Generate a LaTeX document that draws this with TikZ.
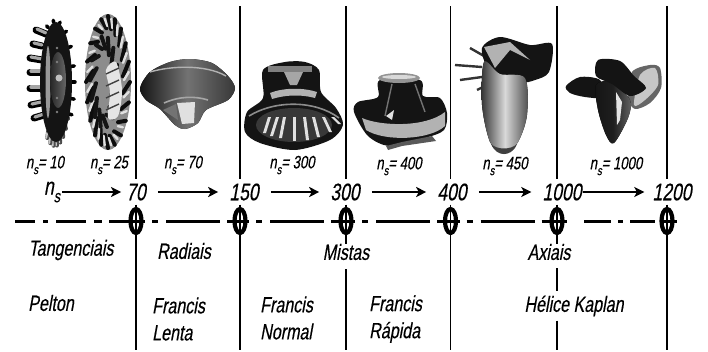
\documentclass[tikz,border=0pt]{standalone}
\usepackage{fontspec}
\newfontfamily\narrowit[FakeStretch=0.73,FakeSlant=0.18,FakeBold=0.35]{Liberation Sans}
\usetikzlibrary{arrows.meta,positioning,calc,shapes.geometric}
\newcommand{\nsub}{n\raisebox{-0.32em}{\scalebox{.72}{s}}}

\begin{document}
\begin{tikzpicture}[
  x=1pt,y=-1pt,
  font=\narrowit,
  axisnum/.style={font=\fontsize{24}{27}\narrowit, inner xsep=0pt, inner ysep=4pt},
  lab/.style={font=\fontsize{22}{27}\narrowit, inner sep=0pt, align=left},
  rot/.style={font=\fontsize{18}{20}\narrowit, inner sep=0pt},
  wall/.style={line width=1.9pt},
  arr/.style={-{Stealth[length=10pt,width=10pt,inset=2.5pt]}, line width=2.1pt, shorten <=12pt, shorten >=11pt},
  axisline/.style={line width=3pt, dash pattern=on 9pt off 7pt on 6pt off 8pt on 54pt off 7pt on 30pt},
  crossing/.style={draw, ellipse, line width=4.2pt, fill=white, inner sep=0pt, minimum width=11pt, minimum height=24pt},
  tooth/.style={line width=7pt, line cap=round},
  blob/.style={black!92},
]
\useasboundingbox (0,0) rectangle (708,351);
\def\yTop{6}\def\yBot{350}\def\yNum{192}\def\yAx{221}

% ================= TICKS =================
\foreach \name/\x in {a/136,b/240,c/346,d/450.5,e/557,f/667}{
  \coordinate (top\name) at (\x,\yTop);
  \coordinate (bot\name) at (\x,\yBot);
  \node[crossing] (cross\name) at (\x,\yAx) {};
}
\coordinate (axstart) at (15,\yAx);

% ================= AXIS NUMBERS =================
\node[axisnum] (ns)    at (52,\yNum) {\nsub};
\node[axisnum] (num70) at (136,\yNum) {70};
\node[axisnum] (num150) at (244,\yNum) {150};
\node[axisnum] (num300) at (345,\yNum) {300};
\node[axisnum] (num400) at (452,\yNum) {400};
\node[axisnum] (num1000) at (562,\yNum) {1000};
\node[axisnum] (num1200) at (672,\yNum) {1200};

\draw[arr, shorten <=2pt, shorten >=5pt] (ns.east |- num70)--(num70);
\draw[arr] (num70)--(num150);
\draw[arr] (num150)--(num300);
\draw[arr] (num300)--(num400);
\draw[arr] (num400)--(num1000);
\draw[arr, shorten <=1pt, shorten >=8pt] (num1000)--(num1200);

% ================= LABELS =================
\node[lab] (tang)   at (71,250) {Tangenciais};
\node[lab] (rad)    at (184,251) {Radiais};
\node[lab] (mistas) at (346,252) {Mistas};
\node[lab] (axiais) at (549,252) {Axiais};
\node[lab] (pelton) at (51,303) {Pelton};
\node[lab, anchor=west] (lenta)  at (152,319) {Francis\\Lenta};
\node[lab, anchor=west] (normal) at (260,318) {Francis\\Normal};
\node[lab, anchor=west] (rapida) at (369,319) {Francis\\R\'apida};
\node[lab] (kaplan) at (574,306) {H\'elice Kaplan};

\node[rot] (r10)   at (45,165)  {\nsub= 10};
\node[rot] (r25)   at (109,165) {\nsub= 25};
\node[rot] (r70)   at (183,165) {\nsub= 70};
\node[rot] (r300)  at (292,165) {\nsub= 300};
\node[rot] (r400)  at (399,166) {\nsub= 400};
\node[rot] (r450)  at (505,166) {\nsub= 450};
\node[rot] (r1000) at (616,166) {\nsub= 1000};

% ================= WALLS =================
\draw[wall] (topa)--(topa |- num70.north);
\draw[wall] (topb)--(topb |- num150.north);
\draw[wall] (topc)--(topc |- num300.north);
\draw[wall] (topd)--(topd |- num400.north);
\draw[wall] (tope)--(tope |- num1000.north);
\draw[wall] (topf)--(topf |- num1200.north);
\draw[wall] (crossa.center |- num70.south)--(bota);
\draw[wall] (crossb.center |- num150.south)--(botb);
\draw[wall] (crossc.center |- num300.south)--(crossc.center |- mistas.north);
\draw[wall] ($(crossc.center |- mistas.south)+(0,9)$)--(botc);
\draw[wall] (crossd.center |- num400.south)--(botd);
\draw[wall] (crosse.center |- num1000.south)--(crosse.center |- axiais.north);
\draw[wall] ($(crosse.center |- axiais.south)+(0,8)$)--($(crosse.center |- kaplan.north)+(0,-4)$);
\draw[wall] ($(crosse.center |- kaplan.south)+(0,4)$)--(bote);
\draw[wall] (crossf.center |- num1200.south)--(botf);

% ================= AXIS =================
\draw[axisline, dash pattern=on 20pt off 8pt on 5pt off 8pt on 30pt off 8pt on 8pt off 7pt on 30pt] (axstart)--(crossa.center);
\draw[axisline] (crossa.center)--(crossb.center);
\draw[axisline] (crossb.center)--(crossc.center);
\draw[axisline] (crossc.center)--(crossd.center);
\draw[axisline] (crossd.center)--(crosse.center);
\draw[axisline, dash pattern=on 10pt off 17pt on 27pt off 7pt on 5pt off 7pt on 25pt off 7pt on 40pt] (crosse.center)--(crossf.center);
\coordinate (axend) at (677,\yAx);
\draw[line width=3pt] (crossf.center)--(axend);

% ================= RUNNERS =================
% Pelton ns=10
\foreach \xa/\ya/\xb/\yb in {46/34/36/30,42/46/33/44,42/60/30/58,41/72/30/72,41/88/30/88,41/103/31/105,44/115/34/118}{
  \draw[tooth, black] (\xa,\ya)--(\xb,\yb);
  \draw[line width=3.2pt, line cap=round, black!35] (\xa,\ya-1)--(\xb+1,\yb-1);
}
\foreach \a in {35,47,...,125}{
  \draw[line width=4pt, line cap=round, black!70] ({55+14*cos(\a)},{82+56*sin(\a)})--({55+16*cos(\a)},{82+64*sin(\a)});
  \draw[line width=1.8pt, line cap=round, black!22] ({54+14*cos(\a)},{82+58*sin(\a)})--({54+16*cos(\a)},{82+64*sin(\a)});
}
\foreach \a in {245,265,...,345,0,16,...,32}{
  \draw[line width=3.5pt, line cap=round, black] ({55+16*cos(\a)},{82+60*sin(\a)})--({55+20*cos(\a)},{82+62*sin(\a)});
}
\fill[blob] (56,82) ellipse [x radius=16, y radius=60];
\fill[black!40] (48,82) ellipse [x radius=2.5, y radius=36];
\fill[left color=black!85, right color=black!60] (58,80) ellipse [x radius=8, y radius=28];
\fill[black!25] (59,78) circle [radius=3.5];
\foreach \y in {48,62,98,112}{\fill[black!50] (57,\y) circle [radius=1.3];}

% Pelton ns=25
\fill[black!45] (108,82) ellipse [x radius=23, y radius=68];
\foreach \a in {0,18,...,342}{
  \draw[black!95, line width=4pt, line cap=round] ({108+22*cos(\a)},{82+66*sin(\a)})--({108+15*cos(\a+12)},{82+54*sin(\a+12)});
  \draw[black!12, line width=2.4pt, line cap=round] ({108+21*cos(\a+9)},{82+64*sin(\a+9)})--({108+16*cos(\a+16)},{82+56*sin(\a+16)});
}
\foreach \a in {0,26,...,338}{
  \draw[black!92, line width=4pt, line cap=round] ({104+14*cos(\a)},{82+46*sin(\a)})--({104+8*cos(\a+22)},{82+34*sin(\a+22)});
}
\fill[black!10] plot[smooth cycle] coordinates {(106,70) (116,62) (122,90) (118,116) (108,118) (110,92)};
\foreach \y in {74,86,98,110}{\draw[black!75, line width=1.4pt] (106,\y)--(119,\y-6);}

% Francis lenta ns=70
\fill[left color=black!92, right color=black!78, middle color=black!55] plot[smooth cycle] coordinates {(140,88) (150,72) (170,62) (190,59) (212,63) (228,76) (235,88) (228,100) (206,110) (198,123) (185,129) (175,125) (160,109) (146,100)};
\draw[black!30, line width=1.4pt] (150,72) .. controls (170,66) and (205,64) .. (226,76);
\draw[black!35, line width=1.6pt] (164,103) .. controls (180,96) and (195,96) .. (208,100);
\fill[black!12] (177,103)--(195,102)--(194,123)--(182,124)--cycle;
\fill[black!55] (163,110)--(176,104)--(178,120)--cycle;

% Francis normal ns=300
\fill[blob] plot[smooth cycle] coordinates {(263,70) (285,62) (305,62) (319,70) (321,92) (336,108) (343,125) (330,140) (295,150) (260,143) (245,132) (247,112) (263,98)};
\fill[black!50] (268,66) rectangle (312,72);
\fill[black!35] (284,72)--(303,72)--(297,85)--(290,85)--cycle;
\fill[black!30] (270,93) .. controls (285,87) and (305,88) .. (317,92) -- (315,98) .. controls (300,94) and (285,95) .. (272,99) -- cycle;
\draw[black!45, line width=1.6pt] (249,116) .. controls (275,100) and (315,100) .. (339,118);
\fill[black!78] (294,125) ellipse [x radius=38, y radius=17];
\foreach \xa/\xb/\h in {268/263/133,276/270/136,283/279/138,293/293/141,303/306/140,312/317/137,322/329/132,331/338/124}{
  \fill[black!12] (\xa,117)--(\xa+3,117)--(\xb+3,\h)--(\xb,\h)--cycle;
}

% Francis rapida ns=400
\fill[blob] plot[smooth cycle] coordinates {(380,80) (420,80) (423,96) (440,98) (447,113) (444,130) (425,138) (390,146) (368,136) (354,112) (358,102) (378,97)};
\fill[black!42] (399,78) ellipse [x radius=21, y radius=5];
\fill[black!15] (399,77) ellipse [x radius=17, y radius=2];
\draw[black!55, line width=1.4pt] (392,84)--(385,116);
\draw[black!55, line width=1.4pt] (415,84)--(425,112);
\fill[black!12] (386,116)--(394,110)--(392,120)--cycle;
\fill[black!30] (362,118) .. controls (380,126) and (425,128) .. (445,112) -- (445,126) .. controls (430,140) and (385,142) .. (366,130) -- cycle;
\fill[black!65] (386,146)--(402,142)--(432,136)--(436,141)--(402,146)--(388,150)--cycle;

% Axial ns=450
\foreach \xa/\ya/\xb/\yb in {455/65/482/67,460/80/482/77,470/48/484/56,477/90/483/87}{
  \draw[black!80, line width=2.4pt] (\xa,\ya)--(\xb,\yb);
}
\fill[blob] plot[smooth cycle] coordinates {(482,48) (500,37) (530,45) (552,44) (549,72) (535,80) (520,82) (490,70)};
\fill[black!30] (484,47)--(510,42)--(530,60)--(510,50)--(495,68)--cycle;
\fill[left color=black!80, right color=black!70, middle color=black!15] plot[smooth cycle] coordinates {(484,62) (500,74) (525,78) (527,115) (518,142) (504,154) (490,142) (482,105)};
\fill[black!75] (491,144) .. controls (497,150) and (511,150) .. (517,144) .. controls (514,152) and (508,154) .. (504,154) .. controls (499,154) and (494,151) .. (491,144) -- cycle;

% Axial ns=1000
\fill[black!60] plot[smooth cycle] coordinates {(632,72) (650,65) (660,68) (661,88) (650,103) (635,109) (628,98)};
\fill[black!22] plot[smooth cycle] coordinates {(640,75) (655,68) (658,85) (645,100) (634,105)};
\fill[blob] plot[smooth cycle] coordinates {(566,86) (580,77) (600,80) (602,97) (585,97) (570,93)};
\fill[left color=black!92, right color=black!60, middle color=black!88] plot[smooth cycle] coordinates {(596,85) (612,82) (630,100) (628,118) (614,143) (606,135) (598,110)};
\fill[black!10] (616,92)--(622,102)--(620,120)--(617,125)--cycle;
\fill[blob] plot[smooth cycle] coordinates {(598,60) (620,61) (634,76) (646,88) (630,96) (612,84) (596,76)};

\end{tikzpicture}
\end{document}
